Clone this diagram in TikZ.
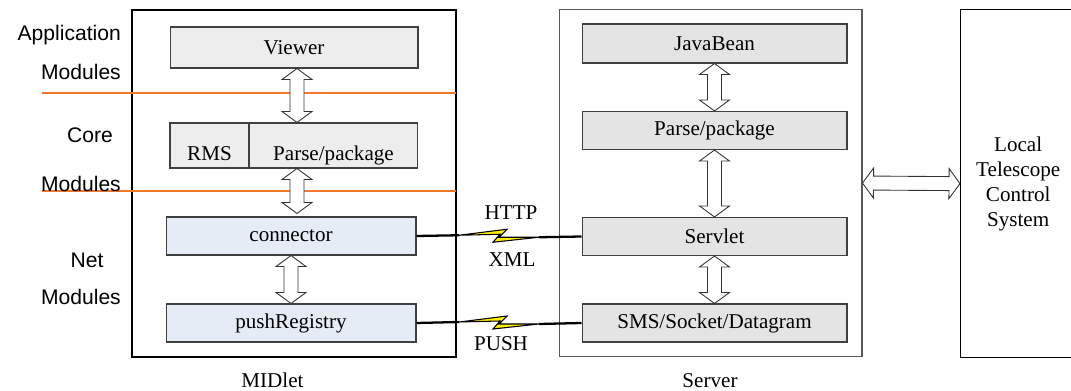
\documentclass[tikz,border=0pt]{standalone}
\usepackage{fontspec}
\setmainfont{Liberation Serif}
\newfontfamily\layerfont{Liberation Sans}
\usepackage{tikz}
\usetikzlibrary{calc,positioning}

\definecolor{appgray}{HTML}{EDEDED}
\definecolor{netblue}{HTML}{E6ECF5}
\definecolor{srvgray}{HTML}{E4E4E4}
\definecolor{layerorange}{HTML}{F07828}
\definecolor{boltyellow}{HTML}{FFF000}

\tikzset{
  box/.style={draw=black!75, line width=0.6pt, inner sep=1pt,
    font=\fontsize{12}{14}\selectfont},
  midbox/.style={box, minimum width=4.96cm, minimum height=0.82cm},
  netbox/.style={box, fill=netblue, minimum width=5cm, minimum height=0.76cm},
  srvbox/.style={box, fill=srvgray, minimum width=5.3cm, minimum height=0.76cm},
  corebox/.style={box, fill=appgray, minimum height=0.9cm,
    text height=0.7cm, text depth=0.08cm},
  layertext/.style={font=\layerfont\fontsize{12}{14}\selectfont},
  caption/.style={font=\fontsize{12}{14}\selectfont},
  layer/.style={draw=layerorange, line width=0.8pt},
  link/.style={line width=1.3pt},
  bolt/.style={fill=boltyellow, draw=black, line width=0.6pt},
  % hollow double-headed block arrow
  hollow/.style={draw=black!80, fill=white, line width=0.5pt, to path={
    -- ($(\tikztostart)!0.22cm!(\tikztotarget)!0.3cm!90:(\tikztotarget)$)
    -- ($(\tikztostart)!0.22cm!(\tikztotarget)!0.14cm!90:(\tikztotarget)$)
    -- ($(\tikztotarget)!0.22cm!(\tikztostart)!0.14cm!-90:(\tikztostart)$)
    -- ($(\tikztotarget)!0.22cm!(\tikztostart)!0.3cm!-90:(\tikztostart)$)
    -- (\tikztotarget)
    -- ($(\tikztotarget)!0.22cm!(\tikztostart)!0.3cm!90:(\tikztostart)$)
    -- ($(\tikztotarget)!0.22cm!(\tikztostart)!0.14cm!90:(\tikztostart)$)
    -- ($(\tikztostart)!0.22cm!(\tikztotarget)!0.14cm!-90:(\tikztotarget)$)
    -- ($(\tikztostart)!0.22cm!(\tikztotarget)!0.3cm!-90:(\tikztotarget)$)
    -- cycle}}
}

\begin{document}
\begin{tikzpicture}[x=0.02cm, y=-0.02cm]
  \useasboundingbox (0,0) rectangle (1071,391);

  % frames
  \node[draw, line width=1pt, minimum width=6.48cm, minimum height=6.94cm] (midlet) at (294,183.5) {};
  \node[draw=black!65, line width=0.6pt, minimum width=6.06cm, minimum height=6.96cm] (server) at (710.5,183) {};
  \node[draw, line width=0.8pt, anchor=north west, minimum width=2.3cm, minimum height=6.96cm,
    align=center, font=\fontsize{12}{14.2}\selectfont] (lcs) at (960,9) {Local\\Telescope\\Control\\System};
  \node[caption] (midletname) at (272.5,380) {MIDlet};
  \node[caption] (servername) at (710,381) {Server};

  % layer borders
  \draw[layer] (42,93) -- (456,93);
  \draw[layer] (42,191) -- (456,191);

  \node[layertext, anchor=east] (appname) at (127,35) {Application};
  \node[layertext, anchor=east] (appmod) at (127,72) {Modules};
  \node[layertext] (corename) at (90,135) {Core};
  \node[layertext, anchor=east] (coremod) at (127,184) {Modules};
  \node[layertext] (netname) at (87,260) {Net};
  \node[layertext, anchor=east] (netmod) at (127,297) {Modules};

  % MIDlet side
  \node[midbox, fill=appgray] (viewer) at (294,47.5) {Viewer};
  \node[corebox, minimum width=1.58cm] (rms) at (209.5,145.5) {RMS};
  \node[corebox, minimum width=3.38cm, right=-0.6pt of rms] (midparse) {Parse/package};
  \node[netbox] (connector) at (291,236) {connector};
  \node[netbox] (push) at (291,323) {pushRegistry};

  \draw[hollow] ([xshift=0.06cm]viewer.south) to ([xshift=0.06cm]viewer.south |- midparse.north);
  \draw[hollow] ([xshift=0.06cm]viewer.south |- midparse.south) to ([xshift=0.06cm,yshift=0.06cm]viewer.south |- connector.north);
  \draw[hollow] (connector.south) to (push.north);

  % Server side
  \node[srvbox, minimum height=0.78cm] (javabean) at (714.5,43.5) {JavaBean};
  \node[srvbox] (srvparse) at (714.5,130.5) {Parse/package};
  \node[srvbox] (servlet) at (714.5,236.5) {Servlet};
  \node[srvbox] (sms) at (714.5,323) {SMS/Socket/Datagram};

  \draw[hollow] (javabean.south) to (srvparse.north);
  \draw[hollow] (srvparse.south) to (servlet.north);
  \draw[hollow] (servlet.south) to (sms.north);
  \draw[hollow] (server.east) to (lcs.west);

  % wireless links
  \foreach \a/\b/\n in {connector/servlet/1, push/sms/2} {
    \coordinate (bolt\n) at ($(\a.east)!0.5!(\b.west)$);
    \draw[link] (\a.east) -- ([shift={(-40,-1)}]bolt\n);
    \draw[link] ([shift={(40,1)}]bolt\n) -- (\b.west);
    \filldraw[bolt] ([shift={(-40,-1)}]bolt\n) -- ([shift={(8,-7)}]bolt\n)
      -- ([shift={(0,1)}]bolt\n) -- ([shift={(40,1)}]bolt\n)
      -- ([shift={(-6,6)}]bolt\n) -- ([shift={(1,-2)}]bolt\n) -- cycle;
  }
  \node[caption] (http) at (511,213) {HTTP};
  \node[caption] (xml) at (512,260) {XML};
  \node[caption] (pushname) at (501,344) {PUSH};
\end{tikzpicture}
\end{document}
